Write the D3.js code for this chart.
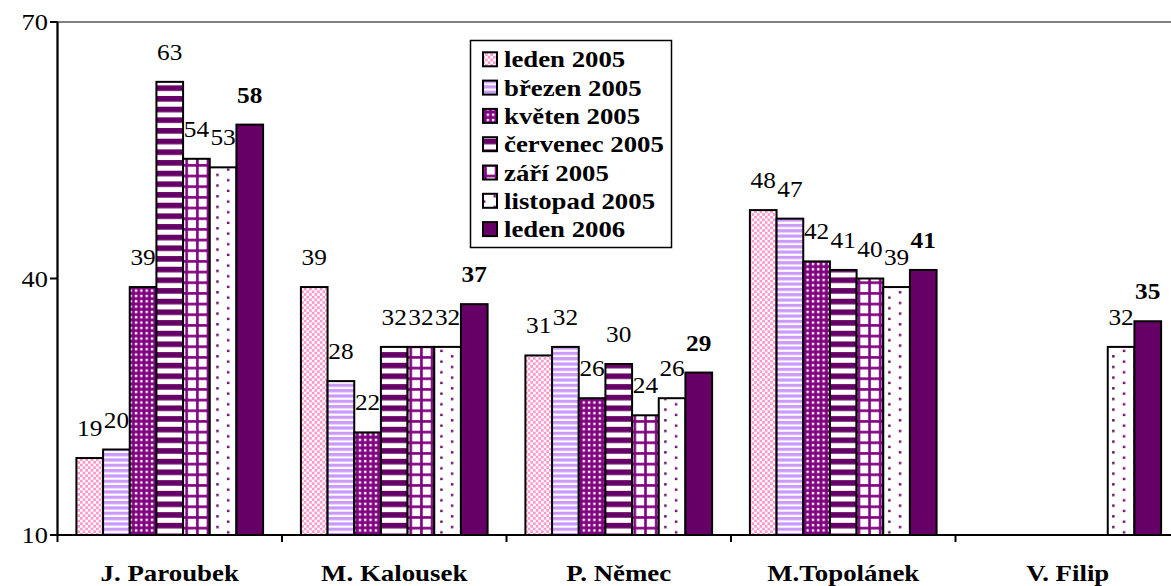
<!DOCTYPE html>
<html><head><meta charset="utf-8">
<script src="https://cdn.jsdelivr.net/npm/d3@7"></script>
<style>body{margin:0;background:#fff}svg{display:block}
text{font-family:"Liberation Serif","Times New Roman",Tinos,serif}</style>
</head><body>
<svg id="c" width="1171" height="586"></svg>
<script>
const categories = ["J. Paroubek", "M. Kalousek", "P. Němec", "M.Topolánek", "V. Filip"];
const seriesNames = ["leden 2005", "březen 2005", "květen 2005", "červenec 2005", "září 2005", "listopad 2005", "leden 2006"];
const leden2005    = [19, 39, 31, 48, null];
const brezen2005   = [20, 28, 32, 47, null];
const kveten2005   = [39, 22, 26, 42, null];
const cervenec2005 = [63, 32, 30, 41, null];
const zari2005     = [54, 32, 24, 40, null];
const listopad2005 = [53, 32, 26, 39, 32];
const leden2006    = [58, 37, 29, 41, 35];
const yTicks = [10, 40, 70];

const seriesValues = [leden2005, brezen2005, kveten2005, cervenec2005, zari2005, listopad2005, leden2006];

const svg = d3.select("#c");

// patterns
const defs = svg.append("defs");
function pat(id, w, h, bg, draw){
  const p = defs.append("pattern").attr("id", id).attr("patternUnits","userSpaceOnUse")
    .attr("width", w).attr("height", h);
  p.append("rect").attr("width", w).attr("height", h).attr("fill", bg);
  draw(p);
}
pat("p0", 5.33, 5.33, "#fff", p => {
  p.append("rect").attr("x",0).attr("y",0).attr("width",2.67).attr("height",2.67).attr("fill","#ff99cc");
  p.append("rect").attr("x",2.67).attr("y",2.67).attr("width",2.67).attr("height",2.67).attr("fill","#ff99cc");
});
pat("p1", 5.33, 5.33, "#fff", p => {
  p.append("rect").attr("x",0).attr("y",0).attr("width",5.33).attr("height",3.2).attr("fill","#cc99ff");
});
pat("p2", 5.33, 5.33, "#800080", p => {
  p.append("rect").attr("x",1.6).attr("y",1.6).attr("width",2.4).attr("height",2.4).attr("fill","#fff");
});
pat("p3", 10.67, 10.67, "#fff", p => {
  p.append("rect").attr("x",0).attr("y",0).attr("width",10.67).attr("height",5.6).attr("fill","#660066");
});
pat("p4", 10.67, 10.67, "#fff", p => {
  p.append("rect").attr("x",4).attr("y",0).attr("width",2.6).attr("height",10.67).attr("fill","#800080");
  p.append("rect").attr("x",0).attr("y",4).attr("width",10.67).attr("height",2.6).attr("fill","#800080");
});
pat("p5", 21.33, 10.67, "#fff", p => {
  p.append("rect").attr("x",3).attr("y",3).attr("width",2.4).attr("height",2.4).attr("fill","#660066");
  p.append("rect").attr("x",13.67).attr("y",8.33).attr("width",2.4).attr("height",2.4).attr("fill","#660066");
});
const fills = ["url(#p0)","url(#p1)","url(#p2)","url(#p3)","url(#p4)","url(#p5)","#660066"];

// scales
const x0 = d3.scaleBand().domain(categories).range([57.5, 57.5 + 224.5*5]).paddingInner(0).paddingOuter(0);
const x1 = d3.scaleBand().domain(d3.range(seriesNames.length)).range([0, x0.bandwidth()]).paddingInner(0).paddingOuter(0.709);
const y = d3.scaleLinear().domain([10, 70]).range([535, 22]);

// plot area border (gray)
svg.append("rect").attr("x", 57.5).attr("y", y(70)).attr("width", 224.5*5).attr("height", y(10)-y(70))
  .attr("fill","none").attr("stroke","#808080").attr("stroke-width",2);

// bars
const gBars = svg.append("g");
categories.forEach((c, ci) => {
  seriesValues.forEach((vals, si) => {
    const v = vals[ci];
    if (v == null) return;
    gBars.append("rect")
      .attr("x", x0(c) + x1(si)).attr("y", y(v))
      .attr("width", x1.bandwidth()).attr("height", y(10) - y(v))
      .attr("fill", fills[si]).attr("stroke", "#000").attr("stroke-width", 2);
  });
});

function stext(g, x, yy, txt, size, weight, anchor, sx){
  return g.append("text").attr("transform", `translate(${x},${yy}) scale(${sx},1)`)
    .attr("text-anchor", anchor).style("font-size", size + "px")
    .style("font-weight", weight).attr("fill", "#000").text(txt);
}

// value labels
const gLab = svg.append("g");
categories.forEach((c, ci) => {
  seriesValues.forEach((vals, si) => {
    const v = vals[ci];
    if (v == null) return;
    stext(gLab, x0(c) + x1(si) + x1.bandwidth()/2, y(v) - 22, String(v), 23,
      si === seriesValues.length - 1 ? "bold" : "normal", "middle", 1.1);
  });
});

// axes
const gAx = svg.append("g");
gAx.append("line").attr("x1", 57.5).attr("x2", 57.5).attr("y1", y(70)).attr("y2", y(10)+7)
  .attr("stroke","#000").attr("stroke-width",2);
gAx.append("line").attr("x1", 50).attr("x2", 57.5 + 224.5*5).attr("y1", y(10)).attr("y2", y(10))
  .attr("stroke","#000").attr("stroke-width",2);
yTicks.forEach(t => {
  gAx.append("line").attr("x1", 50).attr("x2", 57.5).attr("y1", y(t)).attr("y2", y(t))
    .attr("stroke","#000").attr("stroke-width",2);
  stext(gAx, 48, y(t) + 8, String(t), 24, "normal", "end", 1.1);
});
categories.forEach((c, ci) => {
  if (ci > 0) {
    gAx.append("line").attr("x1", x0(c)).attr("x2", x0(c)).attr("y1", y(10)).attr("y2", y(10)+7)
      .attr("stroke","#000").attr("stroke-width",2);
  }
  stext(gAx, x0(c) + x0.bandwidth()/2, 581, c, 24, "bold", "middle", 1.12);
});

// legend
const gL = svg.append("g");
gL.append("rect").attr("x", 470.5).attr("y", 40.5).attr("width", 201).attr("height", 207)
  .attr("fill","#fff").attr("stroke","#000").attr("stroke-width",1.5);
seriesNames.forEach((n, i) => {
  const cy = 59.3 + 28.3*i;
  gL.append("rect").attr("x", 483).attr("y", cy - 7).attr("width", 14).attr("height", 14)
    .attr("fill", fills[i]).attr("stroke","#000").attr("stroke-width",2);
  stext(gL, 504, cy + 8, n, 23.5, "bold", "start", 1.14);
});
</script>
</body></html>
